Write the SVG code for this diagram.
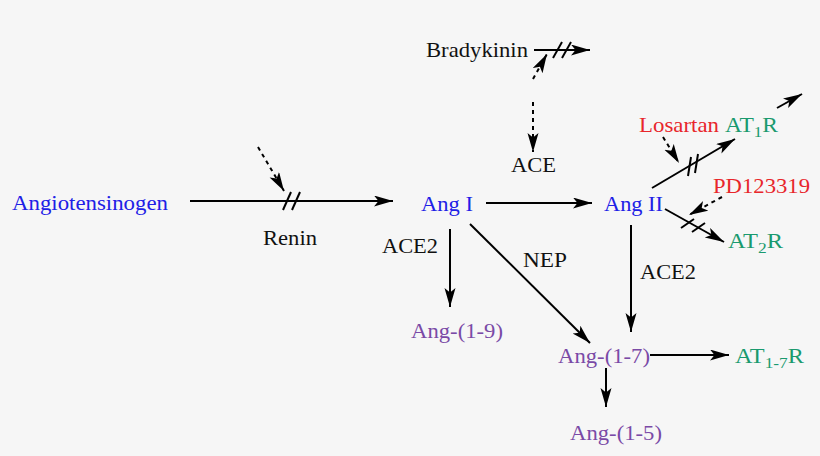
<svg xmlns="http://www.w3.org/2000/svg" width="820" height="456" viewBox="0 0 820 456">
<defs>
<marker id="ah" markerUnits="userSpaceOnUse" markerWidth="20" markerHeight="12" refX="19" refY="5.5" orient="auto">
<path d="M0,0 L19,5.5 L0,11 L4.5,5.5 Z" fill="#000"/>
</marker>
<style>
.t text{font-size:21px;}
.k{fill:#111;}
.b{fill:#2020e6;}
.p{fill:#7a4aa6;}
.g{fill:#1a9a6e;}
.r{fill:#e8262b;}
.sub{font-size:15px;}
.ln{stroke:#000;stroke-width:2;fill:none;}
.ar{stroke:#000;stroke-width:2;fill:none;marker-end:url(#ah);}
.da{stroke:#000;stroke-width:2;fill:none;stroke-dasharray:4,4;marker-end:url(#ah);}
</style>
</defs>
<rect width="820" height="456" fill="#f6f6f6"/>
<g id="connectors">
<line class="ar" x1="190" y1="201" x2="393" y2="201"/>
<line class="ln" x1="283" y1="210" x2="291" y2="192"/>
<line class="ln" x1="292" y1="210" x2="300" y2="192"/>
<line class="da" x1="258" y1="147" x2="284" y2="191"/>
<line class="ar" x1="486" y1="203" x2="592" y2="203"/>
<line class="ar" x1="534" y1="50" x2="590" y2="50"/>
<line class="ln" x1="553" y1="58" x2="562" y2="42"/>
<line class="ln" x1="562" y1="58" x2="571" y2="42"/>
<line class="da" x1="533" y1="79" x2="547" y2="54"/>
<line class="da" x1="533" y1="102" x2="533" y2="152"/>
<line class="ar" x1="450" y1="229" x2="450" y2="307"/>
<line class="ar" x1="470" y1="224" x2="590" y2="343"/>
<line class="ar" x1="631" y1="225" x2="631" y2="332"/>
<line class="ar" x1="650" y1="355" x2="729" y2="355"/>
<line class="ar" x1="606" y1="368" x2="606" y2="407"/>
<line class="ar" x1="652" y1="188" x2="735" y2="139"/>
<line class="ln" x1="688" y1="176" x2="691" y2="157"/>
<line class="ln" x1="695" y1="173" x2="698" y2="154"/>
<line class="da" x1="663" y1="137" x2="679" y2="163"/>
<line class="ar" x1="777" y1="108" x2="802" y2="94"/>
<line class="ar" x1="665" y1="209" x2="724" y2="242"/>
<line class="ln" x1="681" y1="228" x2="694" y2="219"/>
<line class="ln" x1="692" y1="232" x2="705" y2="223"/>
<line class="da" x1="722" y1="197" x2="689" y2="215"/>
</g>
<g class="t" font-family="'Liberation Serif', 'Times New Roman', 'DejaVu Serif', serif">
<g id="angiotensinogen"><text class="b" x="12" y="210" textLength="156" lengthAdjust="spacingAndGlyphs">Angiotensinogen</text></g>
<g id="renin"><text class="k" x="263" y="245" textLength="54" lengthAdjust="spacingAndGlyphs">Renin</text></g>
<g id="bradykinin"><text class="k" x="426" y="57" textLength="102" lengthAdjust="spacingAndGlyphs">Bradykinin</text></g>
<g id="ace"><text class="k" x="511" y="172" textLength="45" lengthAdjust="spacingAndGlyphs">ACE</text></g>
<g id="ang1"><text class="b" x="421" y="211" textLength="52" lengthAdjust="spacingAndGlyphs">Ang I</text></g>
<g id="ang2"><text class="b" x="604" y="211" textLength="59" lengthAdjust="spacingAndGlyphs">Ang II</text></g>
<g id="ace2a"><text class="k" x="382" y="253" textLength="56" lengthAdjust="spacingAndGlyphs">ACE2</text></g>
<g id="nep"><text class="k" x="523" y="267" textLength="44" lengthAdjust="spacingAndGlyphs">NEP</text></g>
<g id="ace2b"><text class="k" x="640" y="279" textLength="56" lengthAdjust="spacingAndGlyphs">ACE2</text></g>
<g id="ang19"><text class="p" x="411" y="338" textLength="92" lengthAdjust="spacingAndGlyphs">Ang-(1-9)</text></g>
<g id="ang17"><text class="p" x="558" y="363" textLength="92" lengthAdjust="spacingAndGlyphs">Ang-(1-7)</text></g>
<g id="ang15"><text class="p" x="570" y="440" textLength="92" lengthAdjust="spacingAndGlyphs">Ang-(1-5)</text></g>
<g id="at17r"><text class="g" x="735" y="363" textLength="69" lengthAdjust="spacingAndGlyphs">AT<tspan class="sub" dy="5">1-7</tspan><tspan dy="-5">R</tspan></text></g>
<g id="losartan"><text class="r" x="639" y="132" textLength="80" lengthAdjust="spacingAndGlyphs">Losartan</text></g>
<g id="at1r"><text class="g" x="725" y="132" textLength="53" lengthAdjust="spacingAndGlyphs">AT<tspan class="sub" dy="5">1</tspan><tspan dy="-5">R</tspan></text></g>
<g id="pd"><text class="r" x="713" y="193" textLength="97" lengthAdjust="spacingAndGlyphs">PD123319</text></g>
<g id="at2r"><text class="g" x="728" y="248" textLength="55" lengthAdjust="spacingAndGlyphs">AT<tspan class="sub" dy="5">2</tspan><tspan dy="-5">R</tspan></text></g>
</g>
</svg>
